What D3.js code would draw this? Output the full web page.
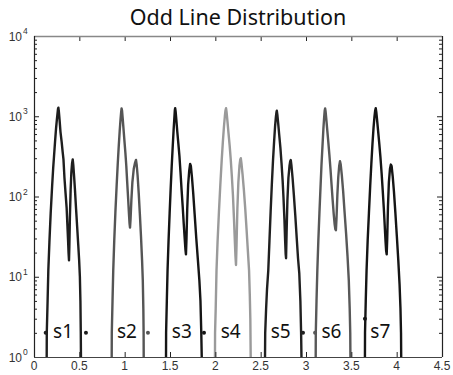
<!DOCTYPE html>
<html>
<head>
<script src="https://d3js.org/d3.v7.min.js"></script>
<style>
  body { margin: 0; background: #fff; }
  text { font-family: "Liberation Sans", Arial, sans-serif; }
</style>
</head>
<body>
<svg id="chart" width="453" height="375"></svg>
<script>
// series data: [x, count]
const s1 = [[0.140,1],[0.141,2],[0.150,5],[0.158,12],[0.170,27],[0.184,62],[0.200,135],[0.212,230],[0.221,320],[0.232,480],[0.243,700],[0.252,900],[0.260,1100],[0.265,1240],[0.269,1280],[0.274,1150],[0.282,900],[0.292,640],[0.305,480],[0.316,360],[0.325,290],[0.336,170],[0.348,110],[0.360,72],[0.368,45],[0.376,28],[0.381,20],[0.386,16],[0.390,24],[0.396,55],[0.404,120],[0.412,200],[0.420,260],[0.427,290],[0.433,250],[0.442,180],[0.452,120],[0.464,70],[0.476,42],[0.488,25],[0.498,16],[0.506,10],[0.512,5],[0.516,2],[0.518,1]];
const s2 = [[0.857,1],[0.858,2],[0.866,5],[0.874,12],[0.885,28],[0.898,65],[0.912,140],[0.924,260],[0.935,430],[0.945,650],[0.954,900],[0.961,1120],[0.966,1250],[0.971,1180],[0.978,950],[0.987,700],[0.997,500],[1.008,350],[1.018,240],[1.028,150],[1.038,95],[1.047,62],[1.054,46],[1.059,41],[1.065,52],[1.074,90],[1.085,150],[1.100,220],[1.115,265],[1.125,285],[1.133,245],[1.143,180],[1.155,110],[1.167,62],[1.180,32],[1.192,16],[1.200,9],[1.206,4],[1.209,2],[1.210,1]];
const s3 = [[1.456,1],[1.457,2],[1.465,5],[1.473,12],[1.484,28],[1.496,62],[1.508,130],[1.519,240],[1.530,420],[1.540,680],[1.548,950],[1.553,1180],[1.557,1260],[1.562,1150],[1.570,900],[1.580,650],[1.592,460],[1.604,320],[1.616,200],[1.628,120],[1.640,75],[1.652,45],[1.662,30],[1.670,22],[1.676,19],[1.682,30],[1.690,70],[1.700,140],[1.712,210],[1.722,255],[1.730,240],[1.742,175],[1.756,110],[1.772,60],[1.790,30],[1.808,16],[1.824,9],[1.836,5],[1.845,2],[1.850,1]];
const s4 = [[1.996,1],[1.997,2],[2.004,4],[2.013,12],[2.025,28],[2.040,65],[2.055,140],[2.070,280],[2.083,480],[2.095,740],[2.105,1000],[2.112,1180],[2.118,1260],[2.124,1130],[2.133,880],[2.145,620],[2.158,430],[2.170,290],[2.182,180],[2.194,105],[2.205,55],[2.214,30],[2.222,18],[2.228,14],[2.234,25],[2.243,70],[2.254,150],[2.266,240],[2.275,290],[2.281,300],[2.288,260],[2.300,190],[2.315,120],[2.330,70],[2.345,38],[2.360,20],[2.372,12],[2.380,6],[2.386,3],[2.390,1]];
const s5 = [[2.548,1],[2.550,2],[2.560,4],[2.570,7],[2.584,12],[2.597,28],[2.610,65],[2.623,140],[2.636,280],[2.648,480],[2.659,750],[2.668,980],[2.674,1120],[2.678,1170],[2.684,1050],[2.693,820],[2.705,580],[2.718,400],[2.730,260],[2.742,160],[2.752,95],[2.762,52],[2.770,28],[2.776,19],[2.780,17],[2.786,35],[2.795,90],[2.806,170],[2.818,240],[2.826,275],[2.832,285],[2.840,240],[2.852,170],[2.866,105],[2.882,58],[2.898,30],[2.912,17],[2.926,11],[2.938,5],[2.946,2],[2.950,1]];
const s6 = [[3.107,1],[3.108,2],[3.116,5],[3.125,12],[3.136,28],[3.148,62],[3.160,130],[3.171,250],[3.182,430],[3.192,700],[3.200,960],[3.206,1170],[3.211,1250],[3.216,1150],[3.224,920],[3.234,680],[3.246,480],[3.258,330],[3.270,220],[3.282,140],[3.294,90],[3.306,60],[3.316,45],[3.324,39],[3.330,38],[3.337,55],[3.346,105],[3.356,175],[3.366,240],[3.375,275],[3.383,250],[3.395,185],[3.410,115],[3.425,65],[3.442,35],[3.458,18],[3.472,9],[3.482,4],[3.488,2],[3.490,1]];
const s7 = [[3.650,1],[3.651,2],[3.659,5],[3.668,12],[3.680,28],[3.694,62],[3.708,135],[3.721,260],[3.733,450],[3.745,720],[3.755,980],[3.763,1180],[3.769,1260],[3.775,1140],[3.784,900],[3.795,660],[3.808,460],[3.821,310],[3.834,195],[3.846,120],[3.858,72],[3.868,44],[3.877,28],[3.884,21],[3.890,19],[3.896,30],[3.904,75],[3.914,150],[3.926,220],[3.936,250],[3.944,240],[3.956,180],[3.970,115],[3.986,62],[4.002,32],[4.018,16],[4.032,8],[4.042,4],[4.048,2],[4.050,1]];

const seriesNames = ["s1", "s2", "s3", "s4", "s5", "s6", "s7"];
const seriesData = [s1, s2, s3, s4, s5, s6, s7];
const seriesColors = ["#1e1e1e", "#555555", "#151515", "#9a9a9a", "#202020", "#585858", "#151515"];
// label anchor (x, y)
const labelX = [0.21, 0.915, 1.52, 2.06, 2.61, 3.17, 3.71];
const labelY = [2, 2, 2, 2, 2, 2, 2];
// small dots seen near the labels: [series index, x, y]
const dots = [[0, 0.129, 2], [0, 0.573, 2], [1, 1.257, 2], [2, 1.875, 2], [4, 2.967, 2], [5, 3.100, 2], [6, 3.650, 3]];

const xTicks = [0, 0.5, 1, 1.5, 2, 2.5, 3, 3.5, 4, 4.5];
const xTickLabels = ["0", "0.5", "1", "1.5", "2", "2.5", "3", "3.5", "4", "4.5"];
const yExponents = [0, 1, 2, 3, 4];

const padL = 34, padR = 442, padT = 36, padB = 357;
const svg = d3.select("#chart");

const x = d3.scaleLinear().domain([0, 4.5]).range([padL, padR]);
const y = d3.scaleLog().domain([1, 1e4]).range([padB, padT]);

// minor ticks for the log axis
const minorTicks = [];
yExponents.slice(0, -1).forEach(e => {
  for (let m = 2; m <= 9; m++) minorTicks.push(m * Math.pow(10, e));
});
const majorTicks = yExponents.map(e => Math.pow(10, e));

svg.append("defs").append("clipPath").attr("id", "clip")
  .append("rect").attr("x", padL).attr("y", padT)
  .attr("width", padR - padL).attr("height", padB - padT);

const plot = svg.append("g").attr("clip-path", "url(#clip)");

const line = d3.line().x(d => x(d[0])).y(d => y(d[1]));

seriesData.forEach((d, i) => {
  plot.append("path")
    .datum(d)
    .attr("d", line)
    .attr("fill", "none")
    .attr("stroke", seriesColors[i])
    .attr("stroke-width", 2.4)
    .attr("stroke-linejoin", "round");
});

plot.selectAll(".dot").data(dots).enter().append("circle")
  .attr("cx", d => x(d[1])).attr("cy", d => y(d[2])).attr("r", 2)
  .attr("fill", d => seriesColors[d[0]]);

svg.selectAll(".slabel").data(seriesNames).enter().append("text")
  .attr("x", (d, i) => x(labelX[i]))
  .attr("y", (d, i) => y(labelY[i]) + 5)
  .style("font-family", "'Noto Sans', sans-serif")
  .style("font-size", "19px")
  .attr("fill", "#111")
  .text(d => d);

// axes: ticks inward on all four sides
const xBottom = d3.axisTop(x).tickValues(xTicks).tickSize(5).tickFormat("");
svg.append("g").attr("transform", `translate(0,${padB})`).call(xBottom);
const xTop = d3.axisBottom(x).tickValues(xTicks).tickSize(5).tickFormat("");
svg.append("g").attr("transform", `translate(0,${padT})`).call(xTop);

const yLeftMajor = d3.axisRight(y).tickValues(majorTicks).tickSize(5).tickFormat("");
svg.append("g").attr("transform", `translate(${padL},0)`).call(yLeftMajor);
const yLeftMinor = d3.axisRight(y).tickValues(minorTicks).tickSize(3).tickFormat("");
svg.append("g").attr("transform", `translate(${padL},0)`).call(yLeftMinor);
const yRightMajor = d3.axisLeft(y).tickValues(majorTicks).tickSize(5).tickFormat("");
svg.append("g").attr("transform", `translate(${padR},0)`).call(yRightMajor);
const yRightMinor = d3.axisLeft(y).tickValues(minorTicks).tickSize(3).tickFormat("");
svg.append("g").attr("transform", `translate(${padR},0)`).call(yRightMinor);

svg.selectAll(".domain").remove();
svg.selectAll(".tick line").attr("stroke", "#222").attr("stroke-width", 1);

// frame
svg.append("line").attr("x1", padL).attr("x2", padR).attr("y1", padT + 0.5).attr("y2", padT + 0.5)
  .attr("stroke", "#888").attr("stroke-width", 1.5);
svg.append("line").attr("x1", padL).attr("x2", padR).attr("y1", padB + 0.5).attr("y2", padB + 0.5)
  .attr("stroke", "#444").attr("stroke-width", 1.2);
svg.append("line").attr("x1", padL + 0.5).attr("x2", padL + 0.5).attr("y1", padT).attr("y2", padB)
  .attr("stroke", "#222").attr("stroke-width", 1.2);
svg.append("line").attr("x1", padR + 0.5).attr("x2", padR + 0.5).attr("y1", padT).attr("y2", padB)
  .attr("stroke", "#222").attr("stroke-width", 1.2);

// x tick labels
svg.selectAll(".xl").data(xTicks).enter().append("text")
  .attr("x", d => x(d)).attr("y", padB + 13)
  .attr("text-anchor", "middle")
  .style("font-size", "12px").attr("fill", "#333")
  .text((d, i) => xTickLabels[i]);

// y tick labels 10^n
svg.selectAll(".yl").data(yExponents).enter().append("text")
  .attr("x", 22).attr("y", d => y(Math.pow(10, d)) + 4.5)
  .attr("text-anchor", "end")
  .style("font-size", "12px").attr("fill", "#333")
  .text("10");
svg.selectAll(".ye").data(yExponents).enter().append("text")
  .attr("x", 23).attr("y", d => y(Math.pow(10, d)) - 2)
  .style("font-size", "8.5px").attr("fill", "#333")
  .text(d => d);

// title
svg.append("text")
  .attr("x", (padL + padR) / 2).attr("y", 25)
  .attr("text-anchor", "middle")
  .style("font-family", "'Noto Sans', sans-serif")
  .style("font-size", "21.5px").attr("fill", "#111")
  .text("Odd Line Distribution");
</script>
</body>
</html>
